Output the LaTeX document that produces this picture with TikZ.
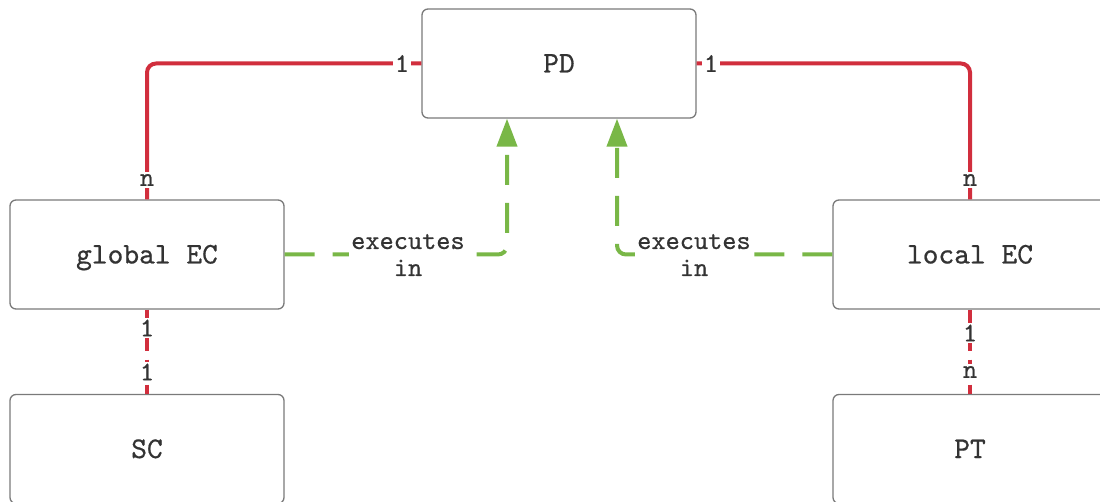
\documentclass[tikz,border=0pt]{standalone}
\usepackage{fontspec}
\newfontfamily\monoface{lmmono10-regular.otf}[FakeBold=0.6]
\usetikzlibrary{arrows.meta,calc}
\definecolor{relred}{HTML}{D12E3D}
\definecolor{execgreen}{HTML}{79B747}
\definecolor{boxgray}{HTML}{7A7A7A}
\definecolor{txt}{HTML}{333333}
\begin{document}
\begin{tikzpicture}[x=1pt,y=-1pt,
  entity/.style={draw=boxgray,line width=1.3pt,rounded corners=6pt,fill=white,
    minimum width=274pt,minimum height=109pt,inner sep=0pt,
    text height=18pt,text depth=0pt,
    font=\fontsize{30}{34}\monoface,text=txt},
  rel/.style={draw=relred,line width=4pt,rounded corners=9pt},
  reldash/.style={rel,dash pattern=on 16pt off 9pt},
  exec/.style={draw=execgreen,line width=4pt,rounded corners=9pt,
    dash pattern=on 30pt off 18pt,-{Triangle[length=28pt,width=20pt]}},
  card/.style={fill=white,inner sep=2pt,font=\fontsize{27}{27}\monoface,text=txt},
  execlbl/.style={card,align=center}]
\useasboundingbox (0,0) rectangle (1100,502);
\clip (0,0) rectangle (1100,502);

% entities
\node[entity] (PD)  at (559,63.5)  {PD};
\node[entity] (gEC) at (147,254.5) {global EC};
\node[entity] (lEC) at (970,254.5) {local EC};
\node[entity] (SC)  at (147,449)   {SC};
\node[entity] (PT)  at (970,449)   {PT};

% relations
\draw[rel] (PD.west) -| (gEC.north);
\draw[rel] (PD.east) -| (lEC.north);
\draw[reldash] (gEC.south) -- (SC.north);
\draw[reldash] (lEC.south) -- (PT.north);

% execution links
\draw[exec] (gEC.east) -| ($(PD.south)+(-52,0)$);
\draw[exec] (lEC.west) -| ($(PD.south)+(58,0)$);

% cardinalities
\node[card] (cPDl) at (402,63.5) {1};
\node[card] (cgEn) at (147,180)  {n};
\node[card] (cPDr) at (711,63.5) {1};
\node[card] (clEn) at (970,180)  {n};
\node[card] (cgE1) at (147,328)  {1};
\node[card] (cSC1) at (147,372)  {1};
\node[card] (clE1) at (970,333)  {1};
\node[card] (cPTn) at (970,372)  {n};

% link labels
\node[execlbl] (xl) at (408,255) {executes\\in};
\node[execlbl] (xr) at (694,255) {executes\\in};
\end{tikzpicture}
\end{document}
